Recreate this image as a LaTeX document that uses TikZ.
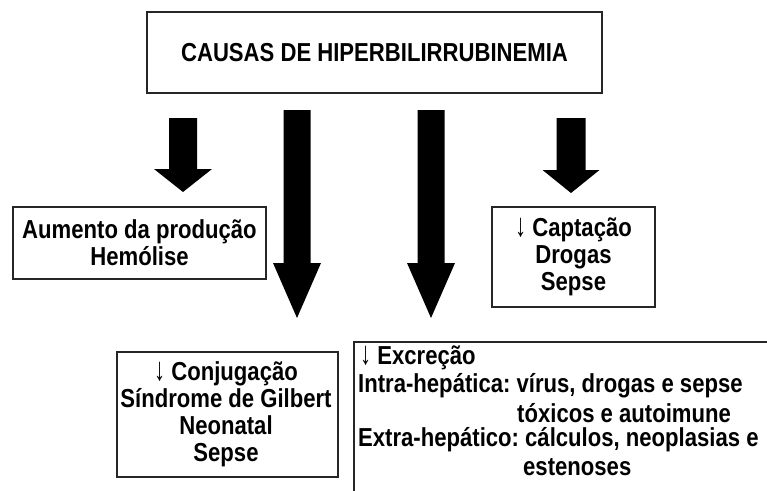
\documentclass[tikz,border=0pt]{standalone}
\usepackage{fontspec}
\setmainfont{Liberation Sans}[FakeStretch=0.85]
\frenchspacing
\tikzset{
  box/.style={draw=black!85, line width=1.6pt, fill=white},
  txt/.style={font=\fontsize{26}{27}\selectfont\bfseries, align=center, inner sep=0pt},
  ltxt/.style={font=\fontsize{26}{27}\selectfont\bfseries, anchor=west, inner sep=0pt},
  blockarrow/.style={fill=black, draw=none}
}
\newcommand\dn{{\mdseries\scalebox{1}[1.25]{↓}}}
\newcommand\barrow[6]{%
  \fill[blockarrow] (#1-#5,#2) -- (#1+#5,#2) -- (#1+#5,#3) -- (#1+#6,#3) -- (#1,#4) -- (#1-#6,#3) -- (#1-#5,#3) -- cycle;}
\begin{document}
\begin{tikzpicture}[x=1pt,y=-1pt]
\useasboundingbox (0,0) rectangle (767,490);
\fill[white] (0,0) rectangle (767,490);
% title
\node[box, txt, minimum width=455pt, minimum height=81pt] (title) at (374.5,52.5) {CAUSAS DE HIPERBILIRRUBINEMIA};
% arrows
\coordinate (a1) at (183,118);
\coordinate (a2) at (297,110);
\coordinate (a3) at (431,110);
\coordinate (a4) at (571,118);
\barrow{183}{118}{169}{192}{14}{29}
\barrow{297}{110}{263}{318}{13.5}{24}
\barrow{431}{110}{263}{318}{13.5}{24}
\barrow{571}{118}{170}{193}{14.5}{28.5}
% left box
\node[box, txt, minimum width=253pt, minimum height=72pt] (prod) at (139.5,243) {Aumento da produção\\Hemólise};
% captacao box
\node[box, txt, minimum width=163pt, minimum height=100pt] (capt) at (573.5,257) {\dn{} Captação\\Drogas\\Sepse};
% conjugacao box
\node[box, minimum width=221pt, minimum height=125pt] (conj) at (227.5,414.5) {};
\node[txt] (conjt) at (226,414.5) {\dn{} Conjugação\\Síndrome de Gilbert\\Neonatal\\Sepse};
% excrecao box
\draw[box] (354,342) rectangle (800,520);
\node[ltxt] (e1) at (360,358) {\dn{} Excreção};
\node[ltxt] (e2) at (358,386) {Intra-hepática: vírus, drogas e sepse};
\node[ltxt] (e3) at (517,413) {tóxicos e autoimune};
\node[ltxt] (e4) at (358,440) {Extra-hepático: cálculos, neoplasias e};
\node[ltxt] (e5) at (523,467) {estenoses};
\end{tikzpicture}
\end{document}
